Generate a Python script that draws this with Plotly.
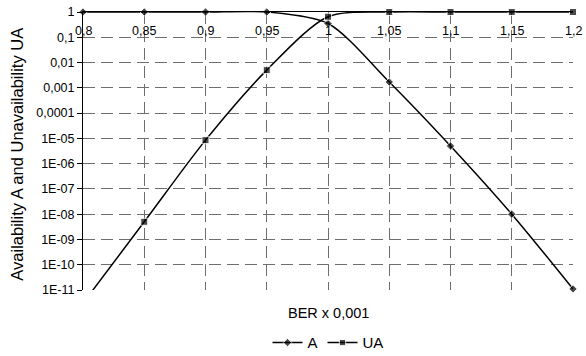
import plotly.graph_objects as go

ber = [0.80, 0.85, 0.90, 0.95, 1.00, 1.05, 1.10, 1.15, 1.20]
avail_A = [1.0, 1.0, 1.0, 1.0, 0.35, 1.7e-3, 5e-6, 1e-8, 1.1e-11]
unavail_UA = [3e-12, 5e-9, 8.5e-6, 5e-3, 0.65, 1.0, 1.0, 1.0, 1.0]

x_ticks = [0.8, 0.85, 0.9, 0.95, 1.0, 1.05, 1.1, 1.15, 1.2]
x_ticktext = ["0,8", "0,85", "0,9", "0,95", "1", "1,05", "1,1", "1,15", "1,2"]
y_ticks = [1, 0.1, 0.01, 0.001, 0.0001, 1e-5, 1e-6, 1e-7, 1e-8, 1e-9, 1e-10, 1e-11]
y_ticktext = ["1", "0,1", "0,01", "0,001", "0,0001", "1E-05", "1E-06", "1E-07",
              "1E-08", "1E-09", "1E-10", "1E-11"]

YMIN = 1e-11
FONT = "Liberation Sans, Arial, sans-serif"


def sizes(vals, s):
    return [s if v >= YMIN * 0.999 else 0 for v in vals]


fig = go.Figure()
fig.add_trace(go.Scatter(
    x=ber, y=avail_A, name="A", mode="lines+markers",
    line=dict(color="black", width=1.5, shape="spline", smoothing=0.8),
    marker=dict(symbol="diamond", size=sizes(avail_A, 6.5), color="black"),
    cliponaxis=False,
))
fig.add_trace(go.Scatter(
    x=ber, y=unavail_UA, name="UA", mode="lines+markers",
    line=dict(color="black", width=1.5, shape="spline", smoothing=0.8),
    marker=dict(symbol="square", size=sizes(unavail_UA, 7), color="black"),
    cliponaxis=False,
))

annotations = [
    dict(text=t, xref="x", yref="paper", x=v, y=0.932, xanchor="center", yanchor="middle",
         showarrow=False, font=dict(size=12.5, color="black"))
    for v, t in zip(x_ticks, x_ticktext)
]
annotations += [
    dict(text="BER x 0,001", xref="paper", yref="paper", x=0.5, y=-0.083,
         xanchor="center", yanchor="middle", showarrow=False,
         font=dict(size=14.5, color="black")),
    dict(text="Availability A and Unavailability UA", xref="paper", yref="paper",
         x=-0.135, y=0.49, xanchor="center", yanchor="middle", textangle=-90,
         showarrow=False, font=dict(size=16.5, color="black")),
]

fig.update_layout(
    width=586, height=356,
    margin=dict(l=83, r=13, t=12, b=66, autoexpand=False),
    paper_bgcolor="white", plot_bgcolor="white",
    font=dict(family=FONT, size=12, color="black"),
    showlegend=True,
    legend=dict(orientation="h", x=0.5, xanchor="center", y=-0.19, yanchor="middle",
                font=dict(size=15, color="black"), itemwidth=30, tracegroupgap=0),
    xaxis=dict(
        range=[0.8, 1.2], side="top", showticklabels=False,
        tickvals=x_ticks, ticks="", automargin=False,
        showline=True, linecolor="black", linewidth=1,
        showgrid=True, gridcolor="#6e6e6e", gridwidth=1, griddash="12px,6px",
        zeroline=False,
    ),
    yaxis=dict(
        type="log", range=[-11, 0], automargin=False,
        tickvals=y_ticks, ticktext=y_ticktext,
        ticks="outside", ticklen=5, tickcolor="black",
        showline=True, linecolor="black", linewidth=1,
        showgrid=True, gridcolor="#6e6e6e", gridwidth=1, griddash="12px,6px",
        zeroline=False, tickfont=dict(size=12.5, color="black"),
    ),
    annotations=annotations,
)

fig.write_html("out.html")
